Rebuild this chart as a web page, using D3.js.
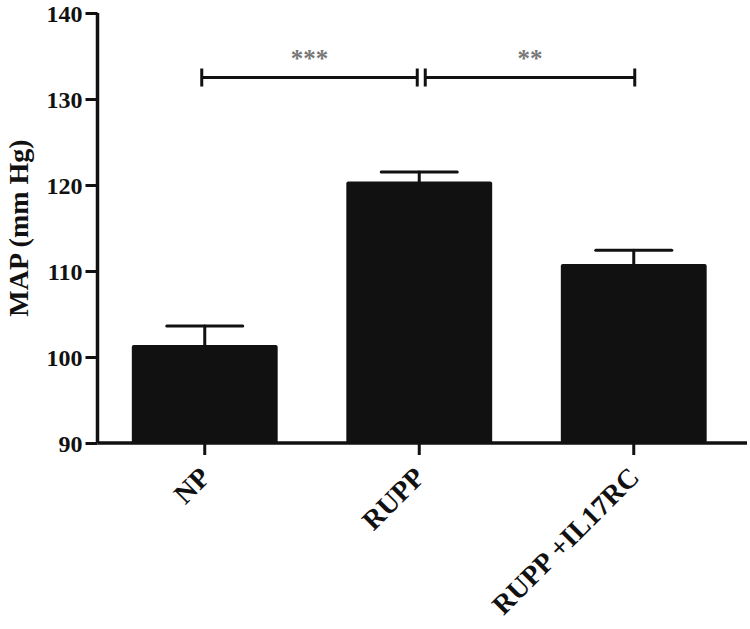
<!DOCTYPE html>
<html>
<head>
<meta charset="utf-8">
<script src="https://cdn.jsdelivr.net/npm/d3@7"></script>
<style>
  html, body { margin: 0; padding: 0; background: #fff; }
  svg { display: block; }
  text { font-family: "Liberation Serif", "Times New Roman", serif; font-weight: bold; }
</style>
</head>
<body>
<svg id="chart" width="750" height="629"></svg>
<script>
// ---- data ----
const categories = ["NP", "RUPP", "RUPP +IL17RC"];
const means = [101.4, 120.4, 110.8];
const errors = [2.2, 1.1, 1.6];
const yTicks = [90, 100, 110, 120, 130, 140];
const yLabel = "MAP (mm Hg)";
const comparisons = [
  { from: 0, to: 1, level: 132.5, label: "***" },
  { from: 1, to: 2, level: 132.5, label: "**" }
];

// ---- layout ----
const svg = d3.select("#chart");
const x0 = 97.5, x1 = 741, yTop = 13, yBottom = 443;
const ink = "#111";

const x = d3.scaleBand().domain(categories).range([x0, x1])
  .paddingInner(0.32).paddingOuter(0.16);
const y = d3.scaleLinear().domain([90, 140]).range([yBottom, yTop]);

// bars
svg.append("g").selectAll("rect").data(categories).join("rect")
  .attr("x", d => x(d))
  .attr("y", (d, i) => y(means[i]))
  .attr("width", x.bandwidth())
  .attr("height", (d, i) => y(90) - y(means[i]))
  .attr("rx", 2)
  .attr("fill", ink);

// error bars
const capW = 76;
const eg = svg.append("g").attr("stroke", ink).attr("stroke-width", 3).attr("stroke-linecap", "round");
categories.forEach((c, i) => {
  const cx = x(c) + x.bandwidth() / 2;
  eg.append("line").attr("x1", cx).attr("x2", cx)
    .attr("y1", y(means[i])).attr("y2", y(means[i] + errors[i]));
  eg.append("line").attr("x1", cx - capW / 2).attr("x2", cx + capW / 2)
    .attr("y1", y(means[i] + errors[i])).attr("y2", y(means[i] + errors[i]));
});

// y axis
const yAxis = svg.append("g").attr("transform", `translate(${x0},0)`)
  .call(d3.axisLeft(y).tickValues(yTicks).tickSize(12).tickPadding(3).tickFormat(d3.format("d")));
yAxis.select(".domain").attr("stroke", ink).attr("stroke-width", 3.5).attr("d", `M0,${yTop}V${yBottom}`);
yAxis.selectAll(".tick line").attr("stroke", ink).attr("stroke-width", 3);
yAxis.selectAll(".tick text").attr("fill", ink).attr("font-size", 24)
  .attr("font-family", "Liberation Serif, serif").attr("font-weight", "bold").attr("dy", "0.34em");

// x axis
const xAxis = svg.append("g").attr("transform", `translate(0,${yBottom})`)
  .call(d3.axisBottom(x).tickSize(12).tickFormat(""));
xAxis.select(".domain").attr("stroke", ink).attr("stroke-width", 3.5).attr("d", `M${x0},0H${x1 + 6}`);
xAxis.selectAll(".tick line").attr("stroke", ink).attr("stroke-width", 3);

// x labels rotated
svg.append("g").selectAll("text").data(categories).join("text")
  .attr("transform", d => `translate(${x(d) + x.bandwidth() / 2 + 7},${yBottom + 36}) rotate(-45)`)
  .attr("text-anchor", "end")
  .attr("font-size", 28)
  .attr("fill", ink)
  .text(d => d);

// y label
svg.append("text")
  .attr("transform", `translate(28,228) rotate(-90)`)
  .attr("text-anchor", "middle")
  .attr("font-size", 28)
  .attr("fill", ink)
  .text(yLabel);

// significance brackets
const cg = svg.append("g");
comparisons.forEach((c, k) => {
  const xa = x(categories[c.from]) + x.bandwidth() / 2 + (k === 0 ? -3 : 6);
  const xb = x(categories[c.to]) + x.bandwidth() / 2 + (k === 0 ? -2 : 1);
  const yy = y(c.level);
  cg.append("line").attr("x1", xa).attr("x2", xb).attr("y1", yy).attr("y2", yy)
    .attr("stroke", ink).attr("stroke-width", 3);
  [xa, xb].forEach(xv => cg.append("line").attr("x1", xv).attr("x2", xv)
    .attr("y1", yy - 9).attr("y2", yy + 9).attr("stroke", ink).attr("stroke-width", 3));
  cg.append("text").attr("x", (xa + xb) / 2).attr("y", yy - 11)
    .attr("text-anchor", "middle").attr("font-size", 25).attr("fill", "#777")
    .text(c.label);
});
</script>
</body>
</html>
